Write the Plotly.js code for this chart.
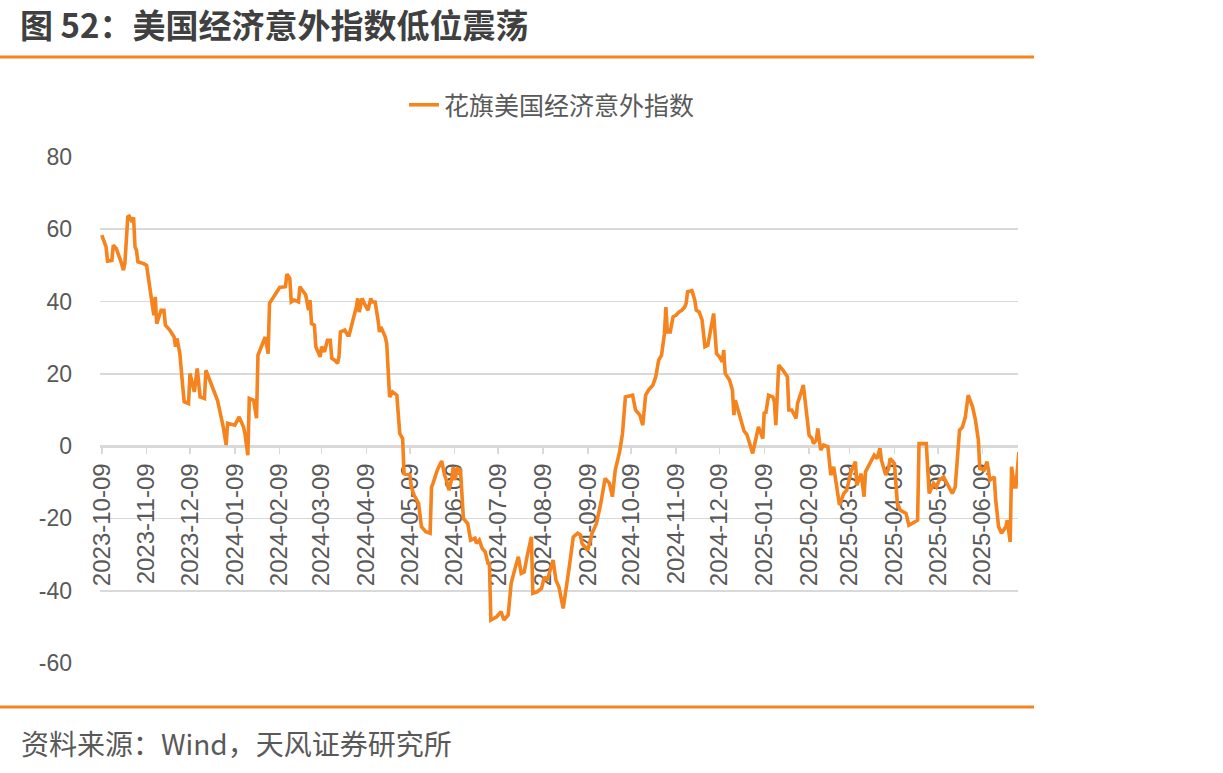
<!DOCTYPE html>
<html>
<head>
<meta charset="utf-8">
<script src="https://cdn.plot.ly/plotly-3.0.1.min.js"></script>
<style>
html,body{margin:0;padding:0;background:#fff;}
#chart{width:1223px;height:773px;}
</style>
</head>
<body>
<div id="chart"></div>
<script>
const seriesName = '花旗美国经济意外指数';
const dates = [
'2023-10-09','2023-10-11','2023-10-12','2023-10-13','2023-10-16','2023-10-17','2023-10-19','2023-10-22','2023-10-24','2023-10-25',
'2023-10-27','2023-10-28','2023-10-30','2023-10-31','2023-11-01','2023-11-02','2023-11-03','2023-11-07','2023-11-09','2023-11-11',
'2023-11-12','2023-11-13','2023-11-14','2023-11-15','2023-11-16','2023-11-19','2023-11-21','2023-11-22','2023-11-25','2023-11-28',
'2023-11-29','2023-11-30','2023-12-02','2023-12-04','2023-12-05','2023-12-08','2023-12-09','2023-12-12','2023-12-14','2023-12-16',
'2023-12-19','2023-12-20','2023-12-23','2023-12-28','2024-01-01','2024-01-03','2024-01-04','2024-01-09','2024-01-12','2024-01-15',
'2024-01-16','2024-01-18','2024-01-19','2024-01-22','2024-01-24','2024-01-25','2024-01-30','2024-02-01','2024-02-02','2024-02-06',
'2024-02-09','2024-02-13','2024-02-14','2024-02-16','2024-02-17','2024-02-19','2024-02-22','2024-02-23','2024-02-25','2024-02-27',
'2024-02-29','2024-03-01','2024-03-02','2024-03-04','2024-03-05','2024-03-08','2024-03-09','2024-03-11','2024-03-12','2024-03-13',
'2024-03-15','2024-03-16','2024-03-18','2024-03-20','2024-03-21','2024-03-22','2024-03-25','2024-03-27','2024-03-28','2024-03-30',
'2024-04-02','2024-04-03','2024-04-04','2024-04-06','2024-04-07','2024-04-10','2024-04-12','2024-04-13','2024-04-15','2024-04-17',
'2024-04-18','2024-04-19','2024-04-22','2024-04-23','2024-04-24','2024-04-25','2024-04-27','2024-04-30','2024-05-02','2024-05-04',
'2024-05-05','2024-05-09','2024-05-10','2024-05-12','2024-05-15','2024-05-17','2024-05-20','2024-05-23','2024-05-24','2024-05-25',
'2024-05-28','2024-05-31','2024-06-02','2024-06-04','2024-06-05','2024-06-07','2024-06-08','2024-06-09','2024-06-11','2024-06-13',
'2024-06-15','2024-06-18','2024-06-20','2024-06-23','2024-06-24','2024-06-26','2024-06-28','2024-06-30','2024-07-02','2024-07-03',
'2024-07-04','2024-07-08','2024-07-11','2024-07-13','2024-07-16','2024-07-18','2024-07-21','2024-07-23','2024-07-25','2024-07-27',
'2024-07-29','2024-08-01','2024-08-02','2024-08-05','2024-08-08','2024-08-10','2024-08-12','2024-08-15','2024-08-16','2024-08-18',
'2024-08-20','2024-08-23','2024-08-25','2024-08-27','2024-08-30','2024-09-02','2024-09-04','2024-09-05','2024-09-09','2024-09-12',
'2024-09-15','2024-09-18','2024-09-21','2024-09-24','2024-09-26','2024-09-28','2024-10-01','2024-10-03','2024-10-05','2024-10-10',
'2024-10-12','2024-10-15','2024-10-17','2024-10-19','2024-10-21','2024-10-24','2024-10-26','2024-10-28','2024-10-30','2024-11-01',
'2024-11-02','2024-11-03','2024-11-05','2024-11-07','2024-11-09','2024-11-11','2024-11-13','2024-11-15','2024-11-16','2024-11-17',
'2024-11-20','2024-11-22','2024-11-23','2024-11-25','2024-11-27','2024-11-29','2024-12-01','2024-12-03','2024-12-05','2024-12-07',
'2024-12-09','2024-12-11','2024-12-12','2024-12-13','2024-12-16','2024-12-18','2024-12-19','2024-12-20','2024-12-23','2024-12-26',
'2024-12-28','2025-01-01','2025-01-03','2025-01-05','2025-01-08','2025-01-09','2025-01-10','2025-01-12','2025-01-15','2025-01-16',
'2025-01-17','2025-01-19','2025-01-22','2025-01-25','2025-01-26','2025-01-28','2025-01-31','2025-02-01','2025-02-04','2025-02-05',
'2025-02-07','2025-02-09','2025-02-11','2025-02-12','2025-02-14','2025-02-15','2025-02-17','2025-02-19','2025-02-22','2025-02-24',
'2025-02-26','2025-02-27','2025-03-02','2025-03-05','2025-03-07','2025-03-10','2025-03-13','2025-03-14','2025-03-17','2025-03-19',
'2025-03-20','2025-03-23','2025-03-25','2025-03-26','2025-03-28','2025-03-30','2025-03-31','2025-04-03','2025-04-05','2025-04-06',
'2025-04-09','2025-04-11','2025-04-13','2025-04-17','2025-04-19','2025-04-21','2025-04-25','2025-04-26','2025-05-01','2025-05-03',
'2025-05-06','2025-05-08','2025-05-10','2025-05-13','2025-05-19','2025-05-21','2025-05-24','2025-05-26','2025-05-28','2025-05-30',
'2025-06-02','2025-06-04','2025-06-06','2025-06-07','2025-06-10','2025-06-12','2025-06-14','2025-06-17','2025-06-18','2025-06-20',
'2025-06-22','2025-06-25','2025-06-26','2025-06-28','2025-06-29','2025-07-01','2025-07-02','2025-07-04'
];
const values = [
58.4,56.1,55.1,51.2,51.4,55.6,54.7,51.4,48.7,50.6,
63.4,63.6,62.0,63.3,55.1,54.2,51.0,50.5,50.0,44.5,
41.8,40.4,36.2,41.3,33.9,37.6,37.6,33.5,32.1,30.2,
27.5,29.8,25.6,16.4,12.3,11.8,20.1,15.0,21.5,13.6,
13.2,21.0,17.8,12.7,5.3,0.3,6.3,5.8,8.1,5.3,
3.5,-2.5,13.2,12.7,7.7,25.2,30.2,25.6,39.5,42.2,
43.9,44.1,47.6,46.4,39.9,40.4,39.9,44.1,43.1,41.8,
37.6,40.4,33.9,33.5,27.5,24.7,27.5,26.1,27.7,29.3,
29.3,24.3,23.8,22.9,24.7,31.6,32.1,30.7,30.7,33.5,
38.5,40.9,37.1,40.9,39.9,37.6,40.9,39.9,39.9,34.9,
31.6,33.0,30.2,28.4,20.1,13.6,15.0,14.1,3.5,2.1,
-7.6,-8.0,-11.3,-13.6,-15.8,-22.3,-23.7,-24.1,-11.3,-10.3,
-6.6,-4.1,-8.0,-10.3,-12.2,-8.9,-5.7,-9.4,-6.2,-6.6,
-20.0,-21.4,-26.0,-25.5,-26.9,-26.0,-28.3,-29.2,-32.4,-32.4,
-48.1,-47.2,-45.8,-48.1,-46.7,-38.0,-33.4,-30.6,-35.2,-34.8,
-30.6,-25.1,-40.7,-40.3,-39.4,-36.2,-37.1,-32.4,-31.5,-37.1,
-38.9,-44.9,-39.8,-34.0,-25.1,-24.1,-24.6,-26.9,-28.8,-24.1,
-21.4,-15.8,-8.9,-10.3,-14.0,-6.6,-1.6,3.5,13.6,14.1,
10.0,8.6,5.8,14.1,15.5,16.9,19.2,23.8,25.2,31.2,
38.5,31.6,31.6,35.8,36.2,37.1,37.6,38.5,39.5,42.7,
43.0,40.4,37.6,37.1,34.9,27.5,27.9,32.6,36.7,25.6,
24.7,23.3,26.6,20.1,18.3,15.5,8.6,12.7,8.6,4.2,
3.2,-2.0,1.7,5.3,2.1,9.5,9.0,14.1,13.6,12.3,
5.8,22.4,21.0,19.2,10.0,10.0,7.7,11.8,15.5,16.9,
10.0,3.0,2.1,0.7,1.7,4.9,-1.1,0.3,-0.2,-8.0,
-5.7,-8.5,-16.3,-13.1,-12.2,-7.1,-4.3,-10.8,-7.6,-14.0,
-7.1,-4.8,-3.4,-2.5,-3.4,-0.6,-3.9,-8.0,-6.2,-3.4,
-4.8,-15.8,-17.7,-18.6,-21.9,-21.4,-20.5,0.7,0.7,-13.1,
-10.3,-11.3,-9.4,-8.5,-13.1,-11.3,4.4,5.3,8.1,14.1,
10.9,7.2,1.7,-6.2,-6.6,-4.3,-9.4,-8.5,-14.9,-22.3,
-24.1,-22.3,-20.5,-26.5,-5.7,-11.3,-11.3,-1.6
];
const tickDates = [
'2023-10-09','2023-11-09','2023-12-09','2024-01-09','2024-02-09','2024-03-09','2024-04-09',
'2024-05-09','2024-06-09','2024-07-09','2024-08-09','2024-09-09','2024-10-09','2024-11-09',
'2024-12-09','2025-01-09','2025-02-09','2025-03-09','2025-04-09','2025-05-09','2025-06-09'
];
const yTicks = [-60,-40,-20,0,20,40,60,80];
const yTickText = ['-60','-40','-20','0','20','40','60','80'];
const titleText = '图 52：美国经济意外指数低位震荡';
const sourceText = '资料来源：Wind，天风证券研究所';

const ORANGE = '#F5841F';
const GREY_TXT = '#595959';
const GRID = '#D9D9D9';
const FONT = 'Arial, "Liberation Sans", "Noto Sans CJK SC", sans-serif';
const CJK = '"Noto Sans CJK SC", "Microsoft YaHei", sans-serif';

// plot area in pixels
const L = 100, R = 1018, T = 157, B = 663;
const W = R - L, H = B - T;
const px = x => (x - L) / W;
const py = y => (B - y) / H;

const trace = {
  x: dates, y: values, type: 'scatter', mode: 'lines', name: seriesName,
  line: {color: ORANGE, width: 3.6}
};

const layout = {
  width: 1223, height: 773,
  margin: {l: L, r: 1223 - R, t: T, b: 773 - B, pad: 0},
  paper_bgcolor: '#fff', plot_bgcolor: '#fff',
  showlegend: true,
  legend: {
    orientation: 'h', x: px(552), y: py(105), xanchor: 'center', yanchor: 'middle',
    font: {family: CJK, size: 25, color: GREY_TXT}, bgcolor: 'rgba(0,0,0,0)'
  },
  xaxis: {
    type: 'date',
    range: ['2023-10-07 19:00', '2025-07-03 10:00'],
    anchor: 'free', position: py(446),
    tickmode: 'array', tickvals: tickDates, ticktext: tickDates,
    tickangle: -90,
    tickfont: {family: FONT, size: 24, color: GREY_TXT},
    ticks: 'outside', ticklen: 6, tickcolor: GRID, tickwidth: 1.5,
    showline: true, linecolor: GRID, linewidth: 1.8,
    showgrid: false, zeroline: false,
    layer: 'below traces'
  },
  yaxis: {
    range: [-60, 80], tickmode: 'array', tickvals: yTicks, ticktext: yTickText,
    tickfont: {family: FONT, size: 23, color: GREY_TXT},
    showgrid: true, gridcolor: GRID, gridwidth: 1.8,
    zeroline: false, showline: false, ticks: '',
    ticklabelstandoff: 27
  },
  shapes: [
    {type: 'line', xref: 'paper', yref: 'paper', x0: px(0), x1: px(1034), y0: py(57), y1: py(57),
     line: {color: ORANGE, width: 3}},
    {type: 'line', xref: 'paper', yref: 'paper', x0: px(0), x1: px(1034), y0: py(707), y1: py(707),
     line: {color: ORANGE, width: 3}}
  ],
  annotations: [
    {text: '<b>' + titleText + '</b>', xref: 'paper', yref: 'paper', x: px(19), y: py(24),
     xanchor: 'left', yanchor: 'middle', showarrow: false, borderpad: 0,
     font: {family: CJK, size: 33, color: '#404040'}},
    {text: sourceText, xref: 'paper', yref: 'paper', x: px(19), y: py(743),
     xanchor: 'left', yanchor: 'middle', showarrow: false,
     font: {family: CJK, size: 28, color: GREY_TXT}}
  ]
};

Plotly.newPlot('chart', [trace], layout, {displayModeBar: false, staticPlot: true});
</script>
</body>
</html>
